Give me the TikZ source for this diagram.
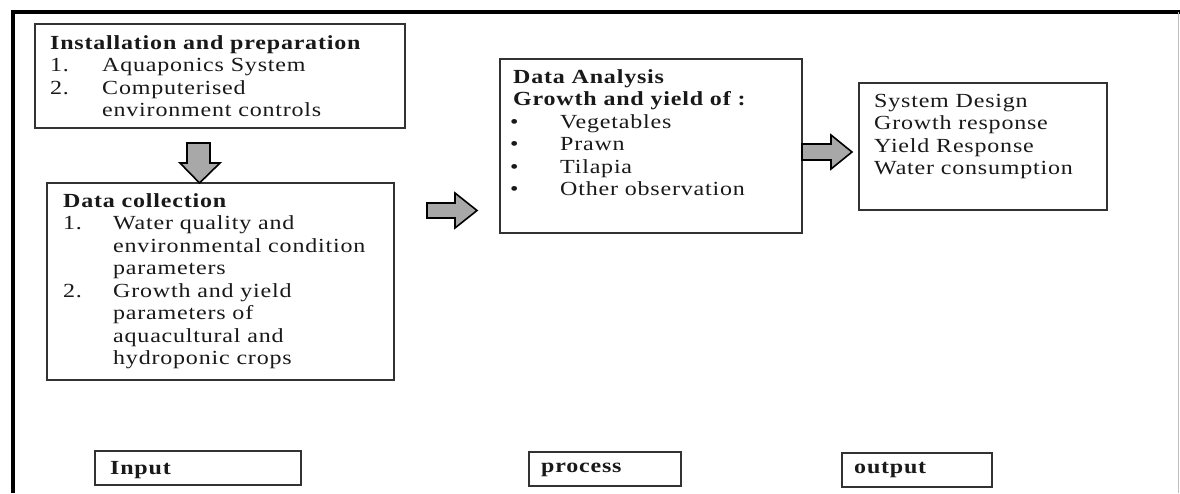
\documentclass[tikz,border=0pt]{standalone}
\usepackage{fontspec}
\setmainfont{Liberation Serif}[FakeStretch=1.2, LetterSpace=4]
\usepackage{array}
\definecolor{boxline}{RGB}{50,50,50}
\definecolor{arrowfill}{RGB}{168,168,168}
\definecolor{inktext}{RGB}{25,25,25}
\tikzset{
  box/.style={draw=boxline, line width=1.4pt, fill=white, inner sep=0pt, outer sep=0pt, anchor=north west},
  txt/.style={inner sep=0pt, anchor=base west, text=inktext, font=\fontsize{20}{22.5}\selectfont},
  blockarrow/.style={draw=black, line width=1.6pt, fill=arrowfill, line join=miter}
}
\begin{document}
\begin{tikzpicture}[x=1pt,y=-1pt]
\useasboundingbox (0,0) rectangle (1180,493);
\fill[white] (0,0) rectangle (1180,493);
% frame
\draw[line width=4.5pt] (13,493) -- (13,12) -- (1180,12);
\draw[black!25, line width=0.8pt] (1178,12) -- (1178,493);

% boxes
\node[box, minimum width=370, minimum height=104] (b1) at (35,24) {};
\node[box, minimum width=347, minimum height=197] (b2) at (47,183) {};
\node[box, minimum width=302, minimum height=174] (b3) at (500,59) {};
\node[box, minimum width=248, minimum height=127] (b4) at (859,83) {};
\node[box, minimum width=206, minimum height=34] (lin) at (95,451) {};
\node[box, minimum width=152, minimum height=34] (lpr) at (529,452) {};
\node[box, minimum width=150, minimum height=34] (lout) at (842,453) {};

% texts
\node[txt] (t1) at (50,49) {\begin{tabular}[t]{@{}p{52pt}@{}l@{}}
\multicolumn{2}{@{}l@{}}{\textbf{Installation and preparation}}\\
1. & Aquaponics System\\
2. & Computerised\\
 & environment controls
\end{tabular}};

\node[txt] (t2) at (63,207) {\begin{tabular}[t]{@{}p{50pt}@{}l@{}}
\multicolumn{2}{@{}l@{}}{\textbf{Data collection}}\\
1. & Water quality and\\
 & environmental condition\\
 & parameters\\
2. & Growth and yield\\
 & parameters of\\
 & aquacultural and\\
 & hydroponic crops
\end{tabular}};

\node[txt] (t3) at (510,83) {\begin{tabular}[t]{@{}p{50pt}@{}l@{}}
\multicolumn{2}{@{}l@{}}{\hspace{3pt}\textbf{Data Analysis}}\\
\multicolumn{2}{@{}l@{}}{\hspace{3pt}\textbf{Growth and yield of :}}\\
\textbullet & Vegetables\\
\textbullet & Prawn\\
\textbullet & Tilapia\\
\textbullet & Other observation
\end{tabular}};

\node[txt] (t4) at (874,107) {\begin{tabular}[t]{@{}l@{}}
System Design\\
Growth response\\
Yield Response\\
Water consumption
\end{tabular}};

\node[txt] (tin) at (110,474) {\textbf{Input}};
\node[txt] (tpr) at (541,472) {\textbf{process}};
\node[txt] (tout) at (854,473) {\textbf{output}};

% block arrows
\path[blockarrow] (187,143) -- (210,143) -- (210,163) -- (220,163) -- (199.5,183) -- (180,163) -- (187,163) -- cycle;
\path[blockarrow] (427,203) -- (455,203) -- (455,193) -- (477,210.5) -- (455,228) -- (455,218) -- (427,218) -- cycle;
\path[blockarrow] (802,144) -- (831,144) -- (831,135) -- (852,152) -- (831,169) -- (831,160) -- (802,160) -- cycle;
\end{tikzpicture}
\end{document}
